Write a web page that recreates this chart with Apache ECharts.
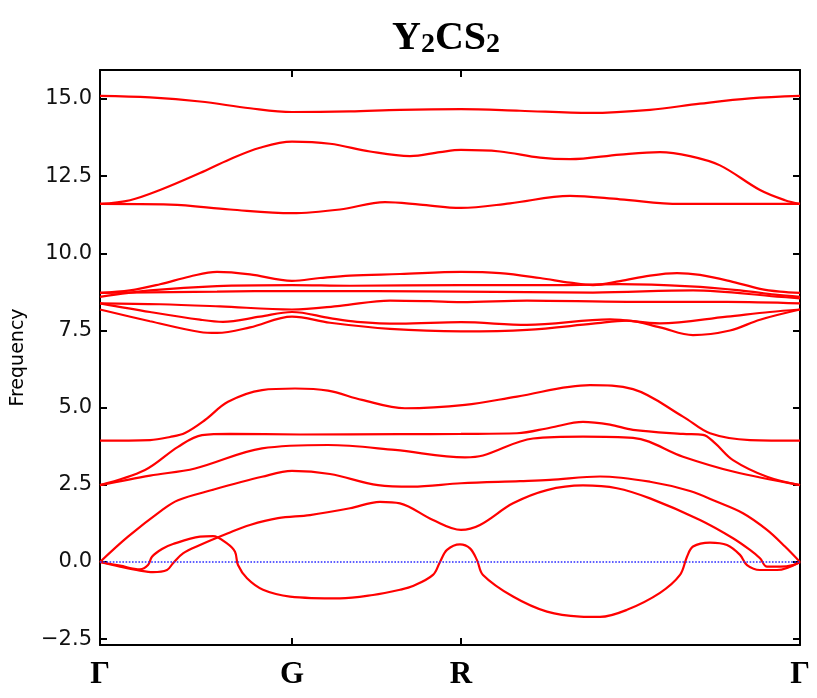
<!DOCTYPE html>
<html><head><meta charset="utf-8">
<script src="https://cdn.jsdelivr.net/npm/echarts@6/dist/echarts.min.js"></script>
<style>html,body{margin:0;padding:0;background:#fff}#c{width:817px;height:698px}</style>
</head><body><div id="c"></div>
<script>
// k-path high-symmetry points (path distance) and their labels
const kTicks = [0, 1.92, 3.61, 7.0];
const kLabels = ['Γ', 'G', 'R', 'Γ'];
const yTicks = [-2.5, 0, 2.5, 5, 7.5, 10, 12.5, 15];

// phonon branches as [k, frequency]
const band15 = [[0,15.10],[0.5,15.05],[1.0,14.92],[1.5,14.70],[1.92,14.58],[2.5,14.60],[3.0,14.65],[3.61,14.67],[4.2,14.62],[4.9,14.55],[5.5,14.65],[6.0,14.85],[6.5,15.02],[7.0,15.10]];
const band14 = [[0,11.6],[0.3,11.72],[0.6,12.05],[1.0,12.6],[1.3,13.05],[1.6,13.42],[1.92,13.62],[2.3,13.55],[2.7,13.3],[3.1,13.15],[3.4,13.28],[3.61,13.35],[4.0,13.3],[4.4,13.1],[4.7,13.05],[5.2,13.2],[5.6,13.28],[5.9,13.15],[6.2,12.85],[6.6,12.05],[6.85,11.72],[7.0,11.6]];
const band13 = [[0,11.6],[0.7,11.58],[1.3,11.42],[1.92,11.3],[2.4,11.42],[2.85,11.66],[3.2,11.58],[3.61,11.47],[4.1,11.62],[4.7,11.86],[5.2,11.75],[5.8,11.6],[7.0,11.6]];
const band12 = [[0,8.72],[0.3,8.8],[0.6,9.0],[0.9,9.25],[1.17,9.40],[1.5,9.32],[1.92,9.11],[2.2,9.2],[2.5,9.28],[3.0,9.33],[3.61,9.40],[4.0,9.36],[4.4,9.2],[4.7,9.05],[4.93,8.97],[5.2,9.1],[5.5,9.28],[5.77,9.36],[6.0,9.3],[6.3,9.1],[6.6,8.85],[6.8,8.76],[7.0,8.72]];
const band11 = [[0,8.59],[0.5,8.8],[1.17,8.94],[1.92,8.97],[2.5,8.95],[3.61,8.97],[4.6,8.97],[5.2,9.0],[5.9,8.93],[6.4,8.8],[6.75,8.66],[7.0,8.59]];
const band10 = [[0,8.72],[1.17,8.76],[1.92,8.78],[3.61,8.76],[4.93,8.73],[5.93,8.80],[6.77,8.6],[7.0,8.54]];
const band9 = [[0,8.38],[0.6,8.35],[1.2,8.28],[1.92,8.18],[2.4,8.3],[2.9,8.47],[3.3,8.45],[3.61,8.42],[4.27,8.47],[5.27,8.43],[6.27,8.43],[7.0,8.38]];
const band8 = [[0,8.38],[0.5,8.1],[1.0,7.85],[1.23,7.78],[1.6,7.95],[1.92,8.1],[2.3,7.9],[2.57,7.78],[3.0,7.72],[3.61,7.77],[4.27,7.68],[5.1,7.86],[5.6,7.73],[6.27,7.95],[6.7,8.1],[7.0,8.18]];
const band7 = [[0,8.18],[0.5,7.8],[1.0,7.45],[1.17,7.42],[1.5,7.6],[1.92,7.95],[2.3,7.75],[2.9,7.55],[3.61,7.47],[4.27,7.52],[4.93,7.72],[5.27,7.82],[5.6,7.6],[5.93,7.35],[6.3,7.5],[6.6,7.85],[7.0,8.18]];
const band6 = [[0,3.93],[0.5,3.95],[0.7,4.05],[0.85,4.18],[1.05,4.6],[1.28,5.19],[1.62,5.57],[1.95,5.62],[2.28,5.55],[2.62,5.25],[3.05,4.98],[3.65,5.09],[4.17,5.36],[4.9,5.73],[5.33,5.6],[5.83,4.71],[6.1,4.17],[6.5,3.95],[7.0,3.93]];
const band5 = [[0,2.49],[0.45,2.98],[0.78,3.73],[1.02,4.11],[1.3,4.15],[2.0,4.13],[3.0,4.14],[3.61,4.15],[4.17,4.17],[4.5,4.35],[4.83,4.54],[5.1,4.45],[5.33,4.28],[5.83,4.15],[6.03,4.12],[6.15,3.85],[6.33,3.3],[6.67,2.76],[7.0,2.49]];
const band4 = [[0,2.49],[0.5,2.8],[0.95,3.03],[1.62,3.68],[2.28,3.79],[2.95,3.63],[3.65,3.39],[3.83,3.45],[4.33,4.0],[4.83,4.06],[5.33,4.02],[5.83,3.41],[6.33,2.93],[7.0,2.49]];
const band3 = [[0,0],[0.28,0.82],[0.62,1.68],[0.78,2.0],[1.12,2.33],[1.62,2.76],[1.92,2.95],[2.3,2.85],[2.78,2.49],[3.12,2.44],[3.61,2.55],[4.2,2.62],[4.5,2.66],[5.0,2.77],[5.5,2.6],[5.9,2.3],[6.17,1.95],[6.43,1.58],[6.67,1.04],[6.85,0.5],[7.0,0]];
const band2 = [[0,0],[0.2,-0.15],[0.4,-0.28],[0.53,-0.33],[0.67,-0.26],[0.73,-0.04],[0.83,0.28],[1.0,0.55],[1.28,0.93],[1.5,1.2],[1.78,1.42],[2.1,1.52],[2.5,1.74],[2.8,1.95],[3.0,1.9],[3.33,1.36],[3.61,1.04],[3.8,1.2],[4.13,1.9],[4.47,2.33],[4.83,2.48],[5.17,2.39],[5.5,2.06],[6.0,1.36],[6.33,0.77],[6.5,0.39],[6.6,0.12],[6.67,-0.15],[6.8,-0.15],[6.93,-0.1],[7.0,0]];
const band1 = [[0,0],[0.2,-0.12],[0.4,-0.24],[0.48,-0.1],[0.52,0.17],[0.62,0.42],[0.73,0.58],[1.0,0.82],[1.13,0.84],[1.27,0.6],[1.35,0.33],[1.38,-0.1],[1.47,-0.53],[1.63,-0.9],[1.9,-1.12],[2.4,-1.18],[2.73,-1.07],[3.0,-0.9],[3.13,-0.78],[3.33,-0.42],[3.4,0],[3.47,0.39],[3.6,0.57],[3.7,0.44],[3.77,0.06],[3.83,-0.42],[4.13,-1.12],[4.47,-1.61],[4.8,-1.77],[5.0,-1.78],[5.27,-1.55],[5.6,-1.0],[5.8,-0.42],[5.87,0.17],[5.93,0.5],[6.1,0.63],[6.27,0.55],[6.4,0.23],[6.47,-0.1],[6.6,-0.26],[6.77,-0.26],[7.0,0]];
const bands = [band1, band2, band3, band4, band5, band6, band7, band8, band9, band10, band11, band12, band13, band14, band15];
const zeroLine = [[0, 0], [7.0, 0]];

const chart = echarts.init(document.getElementById('c'), null, {renderer: 'canvas'});
const fmtY = v => v.toFixed(1).replace('-', '\u2212');
const fmtK = v => { for (let i = 0; i < kTicks.length; i++) if (Math.abs(kTicks[i] - v) < 1e-6) return kLabels[i]; return ''; };
const frame = {show: true, onZero: false, lineStyle: {color: '#000', width: 2}};
const series = bands.map(b => ({
  type: 'line', data: b, smooth: 0.35, showSymbol: false, symbol: 'none',
  lineStyle: {color: '#ff0000', width: 2.2}, silent: true, animation: false, z: 2
}));
series.push({type: 'line', data: zeroLine, showSymbol: false, symbol: 'none',
  lineStyle: {color: '#2b2bff', width: 1.6, type: [1.6, 1.6]}, animation: false, z: 3});

chart.setOption({
  animation: false,
  backgroundColor: '#fff',
  title: {
    text: '{b|Y}{s|2}{b|CS}{s|2}', left: 441, top: 12, textAlign: 'center',
    textStyle: {rich: {
      b: {fontFamily: 'Liberation Serif', fontWeight: 'bold', fontSize: 40, color: '#000', lineHeight: 42, verticalAlign: 'bottom'},
      s: {fontFamily: 'Liberation Serif', fontWeight: 'bold', fontSize: 28, color: '#000', lineHeight: 11, verticalAlign: 'bottom'}
    }}
  },
  grid: {left: 100, right: 17, top: 70, bottom: 53, containLabel: false},
  xAxis: [
    {type: 'value', min: 0, max: 7.0, position: 'bottom', axisLine: frame,
     axisTick: {show: true, inside: true, length: 7, customValues: kTicks.slice(1, 3), lineStyle: {color: '#000', width: 2}},
     axisLabel: {show: true, customValues: kTicks, formatter: fmtK, margin: 14,
       fontFamily: 'Liberation Serif', fontWeight: 'bold', fontSize: 31, color: '#000'},
     splitLine: {show: false}},
    {type: 'value', min: 0, max: 7.0, position: 'top', axisLine: frame,
     axisTick: {show: true, inside: true, length: 7, customValues: kTicks.slice(1, 3), lineStyle: {color: '#000', width: 2}},
     axisLabel: {show: false}, splitLine: {show: false}}
  ],
  yAxis: [
    {type: 'value', min: -2.69, max: 15.94, position: 'left', axisLine: frame,
     axisTick: {show: true, inside: true, length: 7, customValues: yTicks, lineStyle: {color: '#000', width: 2}},
     axisLabel: {show: true, customValues: yTicks, formatter: fmtY, margin: 8,
       fontFamily: 'DejaVu Sans', fontSize: 21, color: '#111'},
     splitLine: {show: false},
     name: 'Frequency', nameLocation: 'middle', nameGap: 72, nameRotate: 90,
     nameTextStyle: {fontFamily: 'DejaVu Sans', fontSize: 19, color: '#000'}},
    {type: 'value', min: -2.69, max: 15.94, position: 'right', axisLine: frame,
     axisTick: {show: true, inside: true, length: 7, customValues: yTicks, lineStyle: {color: '#000', width: 2}},
     axisLabel: {show: false}, splitLine: {show: false}}
  ],
  series: series
});
</script></body></html>
